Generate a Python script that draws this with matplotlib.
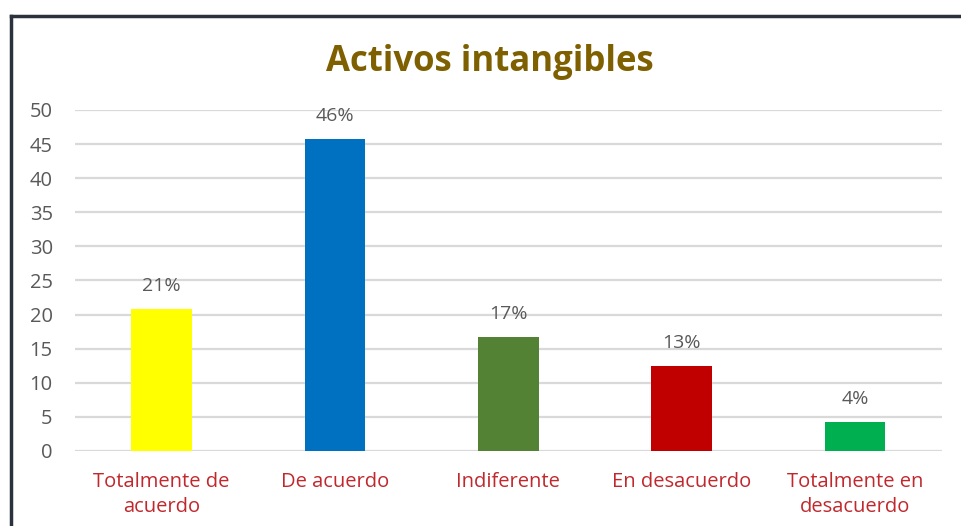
import matplotlib
matplotlib.use("Agg")
from matplotlib import pyplot as plt
from matplotlib.lines import Line2D
import numpy as np

categories = ["Totalmente de\nacuerdo", "De acuerdo", "Indiferente", "En desacuerdo", "Totalmente en\ndesacuerdo"]
values = [20.8, 45.8, 16.7, 12.5, 4.2]
labels = ["21%", "46%", "17%", "13%", "4%"]
colors = ["#FFFF00", "#0070C0", "#548235", "#C00000", "#00B050"]

plt.rcParams['font.family'] = ['Open Sans', 'DejaVu Sans']

fig = plt.figure(figsize=(9.61, 5.26), dpi=100)
ax = fig.add_axes([0.078, 0.1426, 0.902, 0.6484])

x = np.arange(len(categories))
bars = ax.bar(x, values, width=0.35, color=colors, zorder=3)
for b, lab in zip(bars, labels):
    ax.annotate(lab, (b.get_x() + b.get_width() / 2, b.get_height()),
                xytext=(0, 10), textcoords="offset points", ha="center", va="bottom",
                fontsize=14, color="#595959")

ax.set_xlim(-0.5, len(categories) - 0.5)
ax.set_ylim(0, 50)
ax.set_yticks(range(0, 51, 5))
ax.yaxis.grid(True, color="#D9D9D9", linewidth=1.6, zorder=0)
for s in ax.spines.values():
    s.set_visible(False)
ax.tick_params(axis="both", length=0)
ax.tick_params(axis="y", labelsize=14.5, labelcolor="#595959", pad=16)
ax.set_xticks(x)
ax.set_xticklabels(categories, fontsize=14.5, color="#C0282D", linespacing=1.35)
ax.tick_params(axis="x", pad=15)

fig.text(0.51, 0.882, "Activos intangibles", ha="center", va="center",
         fontsize=25, fontweight="bold", color="#7F6000")

# chart frame (top and left edges visible)
fig.add_artist(Line2D([11 / 961, 1.0], [1 - 16 / 526, 1 - 16 / 526], color="#2B323C", linewidth=2.5))
fig.add_artist(Line2D([11 / 961, 11 / 961], [0, 1 - 16 / 526], color="#2B323C", linewidth=2.5))

fig.savefig("out.png", dpi=100)
